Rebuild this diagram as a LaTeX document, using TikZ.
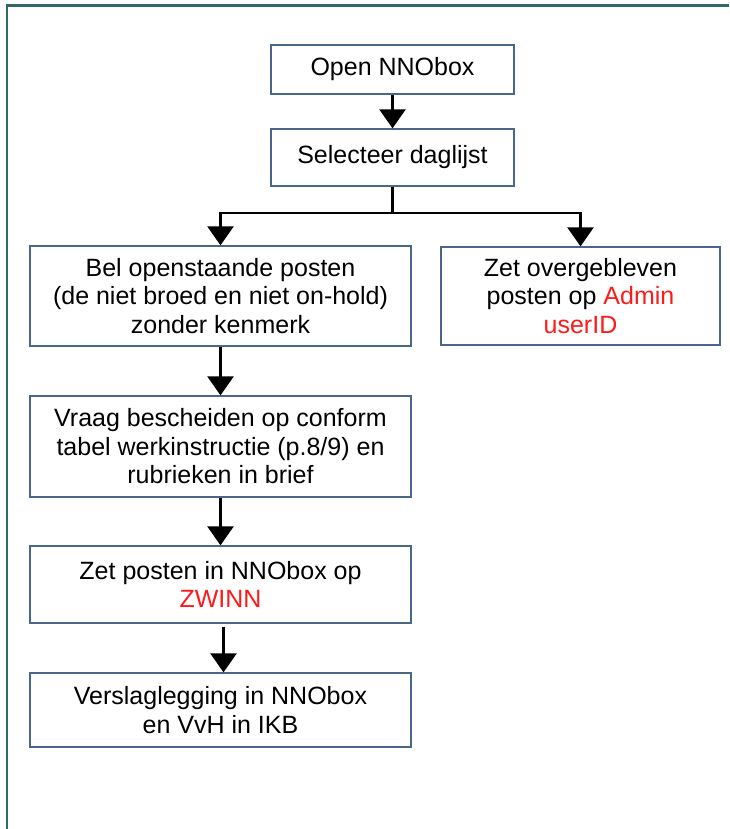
\documentclass[tikz,border=0pt]{standalone}
\usepackage{fontspec}
\setmainfont{Liberation Sans}
\usetikzlibrary{arrows.meta}
\definecolor{framecol}{HTML}{2F6A67}
\definecolor{boxcol}{HTML}{4A6688}
\definecolor{hl}{HTML}{FF1A1A}
\tikzset{
  stepbox/.style={draw=boxcol, line width=1.3pt, fill=white, inner sep=0pt,
    align=center, font=\fontsize{25}{28.5}\selectfont},
  flow/.style={line width=2.5pt, -{Triangle[width=26pt,length=19pt]}},
}
\begin{document}
\begin{tikzpicture}[x=1pt,y=-1pt]
\useasboundingbox (0,0) rectangle (729,829);
% outer frame (left and top edges)
\draw[framecol, line width=2.4pt] (7.2,829) -- (7.2,5.5) -- (729,5.5);

\node[stepbox, minimum width=243pt, minimum height=49pt] (open) at (392.5,69.5) {Open NNObox};
\node[stepbox, minimum width=243pt, minimum height=57pt] (sel) at (392.5,157.5) {Selecteer daglijst};
\node[stepbox, minimum width=381pt, minimum height=100pt] (bel) at (220.5,296)
  {Bel openstaande posten\\(de niet broed en niet on-hold)\\zonder kenmerk};
\node[stepbox, minimum width=279pt, minimum height=98pt] (admin) at (580.5,296)
  {Zet overgebleven\\posten op \textcolor{hl}{Admin}\\\textcolor{hl}{userID}};
\node[stepbox, minimum width=381pt, minimum height=101pt] (vraag) at (220.5,446.5)
  {Vraag bescheiden op conform\\tabel werkinstructie (p.8/9) en\\rubrieken in brief};
\node[stepbox, minimum width=381pt, minimum height=77pt] (zet) at (220.5,584.5)
  {Zet posten in NNObox op\\\textcolor{hl}{ZWINN}};
\node[stepbox, minimum width=381pt, minimum height=74pt] (vers) at (220.5,710)
  {Verslaglegging in NNObox\\en VvH in IKB};

\coordinate (split) at (392.5,213);

\draw[flow] (open) -- (sel);
\draw[line width=2.5pt] (sel.south) -- (split);
\draw[flow] (split) -| (bel.north);
\draw[flow] (split) -| (admin.north);
\draw[flow] (bel) -- (vraag);
\draw[flow] (vraag) -- (zet);
\draw[flow] ([xshift=3pt,yshift=-3pt]zet.south) -- ([xshift=3pt]vers.north);
\end{tikzpicture}
\end{document}
